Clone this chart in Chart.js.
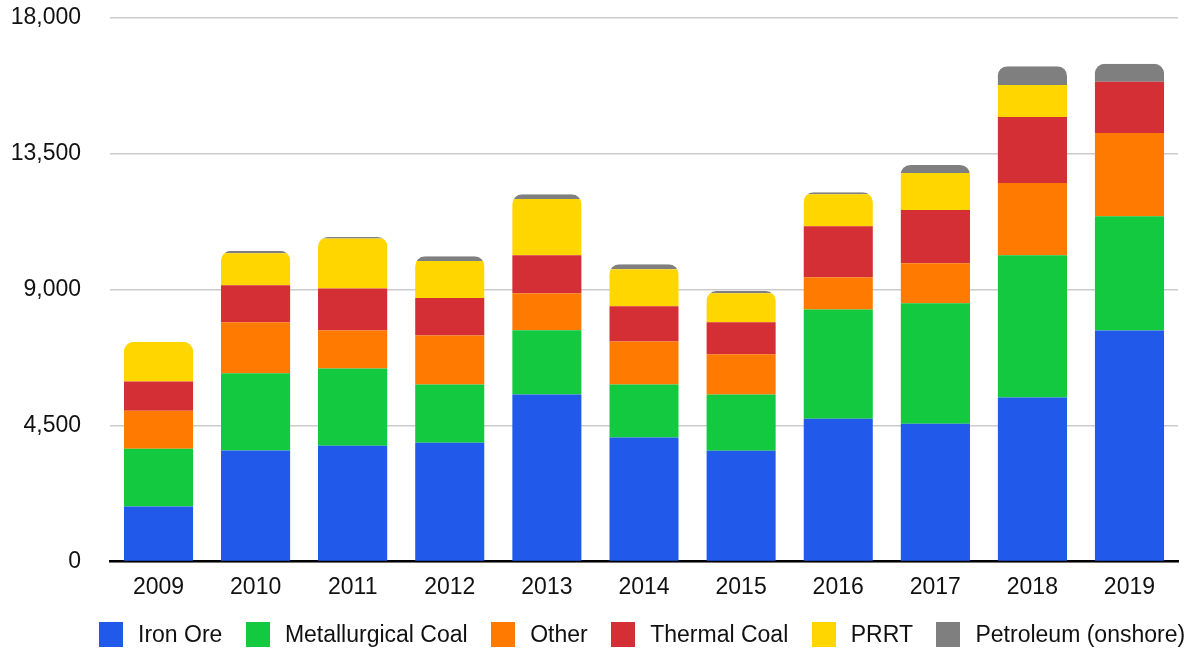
<!DOCTYPE html>
<html>
<head>
<meta charset="utf-8">
<script src="https://cdn.jsdelivr.net/npm/chart.js@4/dist/chart.umd.min.js"></script>
<style>
  html, body { margin: 0; padding: 0; background: #fff; }
  #wrap { position: relative; width: 1195px; height: 652px; }
  #legend {
    position: absolute; left: 99px; top: 622px; height: 25px;
    display: flex; align-items: center;
    font: 23px 'Liberation Sans', Arial, Helvetica, sans-serif; color: #111;
    white-space: nowrap;
  }
  #legend .item { display: flex; align-items: center; margin-right: 23.5px; }
  #legend .box { width: 24px; height: 25px; margin-right: 15px; }
</style>
</head>
<body>
<div id="wrap">
  <canvas id="chart" width="1195" height="652"></canvas>
  <div id="legend"></div>
</div>
<script>
// Categories and stacked series
const years = ['2009', '2010', '2011', '2012', '2013', '2014', '2015', '2016', '2017', '2018', '2019'];
const ironOre = [1820, 3680, 3835, 3935, 5530, 4110, 3670, 4730, 4565, 5430, 7650];
const metCoal = [1915, 2555, 2555, 1925, 2125, 1750, 1860, 3620, 3985, 4715, 3785];
const other = [1260, 1685, 1260, 1625, 1230, 1430, 1330, 1060, 1330, 2390, 2755];
const thermalCoal = [970, 1230, 1395, 1240, 1260, 1160, 1060, 1690, 1760, 2190, 1695];
const prrt = [1310, 1060, 1650, 1230, 1860, 1230, 960, 1060, 1230, 1060, 0];
const petroleum = [0, 80, 55, 155, 155, 165, 80, 70, 265, 620, 600];
const yTicks = [0, 4500, 9000, 13500, 18000];

const cornerRadius = 10;

Chart.defaults.font.family = "'Liberation Sans', Arial, Helvetica, sans-serif";
Chart.defaults.color = '#111';

// rounds the top of each full stack instead of each segment
const roundedTops = {
  id: 'roundedTops',
  beforeDatasetsDraw(chart) {
    const { ctx, scales: { y } } = chart;
    const meta = chart.getDatasetMeta(0);
    ctx.save();
    ctx.beginPath();
    meta.data.forEach((bar, i) => {
      const total = chart.data.datasets.reduce((s, ds) => s + (ds.data[i] || 0), 0);
      const left = bar.x - bar.width / 2;
      const right = bar.x + bar.width / 2;
      const top = y.getPixelForValue(total);
      const bottom = y.getPixelForValue(0) + 2;
      const r = Math.min(cornerRadius, (bottom - top) / 2);
      ctx.moveTo(left, bottom);
      ctx.lineTo(left, top + r);
      ctx.arcTo(left, top, left + r, top, r);
      ctx.lineTo(right - r, top);
      ctx.arcTo(right, top, right, top + r, r);
      ctx.lineTo(right, bottom);
      ctx.closePath();
    });
    ctx.clip();
  },
  afterDatasetsDraw(chart) {
    chart.ctx.restore();
  }
};

const series = [
  { label: 'Iron Ore', data: ironOre, color: '#215AEA' },
  { label: 'Metallurgical Coal', data: metCoal, color: '#13C940' },
  { label: 'Other', data: other, color: '#FF7A00' },
  { label: 'Thermal Coal', data: thermalCoal, color: '#D52F36' },
  { label: 'PRRT', data: prrt, color: '#FFD600' },
  { label: 'Petroleum (onshore)', data: petroleum, color: '#7F7F7F' }
];

const chart = new Chart(document.getElementById('chart'), {
  type: 'bar',
  data: {
    labels: years,
    datasets: series.map(s => ({
      label: s.label,
      data: s.data,
      backgroundColor: s.color,
      borderColor: s.color,
      borderWidth: 0,
      categoryPercentage: 1,
      barPercentage: 0.715
    }))
  },
  options: {
    responsive: false,
    animation: false,
    layout: { padding: { left: 0, right: 17, top: 18, bottom: 50.5 } },
    scales: {
      x: {
        stacked: true,
        z: 1,
        grid: { display: false },
        border: { display: true, color: '#000', width: 2.5 },
        afterFit: axis => { axis.height = 40; },
        ticks: { font: { size: 23 }, padding: 4, color: '#111' }
      },
      y: {
        stacked: true,
        min: 0,
        max: 18000,
        afterBuildTicks: axis => { axis.ticks = yTicks.map(v => ({ value: v })); },
        afterFit: axis => {
          axis.width = 110;
          axis.paddingTop = 0;
          axis.paddingBottom = 0;
        },
        border: { display: false },
        grid: { color: '#cbcbcb', lineWidth: 1.5, drawTicks: false },
        ticks: {
          font: { size: 23 },
          padding: 29,
          color: '#111',
          callback: v => v.toLocaleString('en-US')
        }
      }
    },
    plugins: {
      legend: { display: false },
      tooltip: { enabled: false }
    }
  },
  plugins: [roundedTops]
});

// legend row under the chart, built from the datasets
const legendEl = document.getElementById('legend');
chart.data.datasets.forEach(ds => {
  const item = document.createElement('div');
  item.className = 'item';
  const box = document.createElement('span');
  box.className = 'box';
  box.style.background = ds.backgroundColor;
  const text = document.createElement('span');
  text.textContent = ds.label;
  item.appendChild(box);
  item.appendChild(text);
  legendEl.appendChild(item);
});
</script>
</body>
</html>
